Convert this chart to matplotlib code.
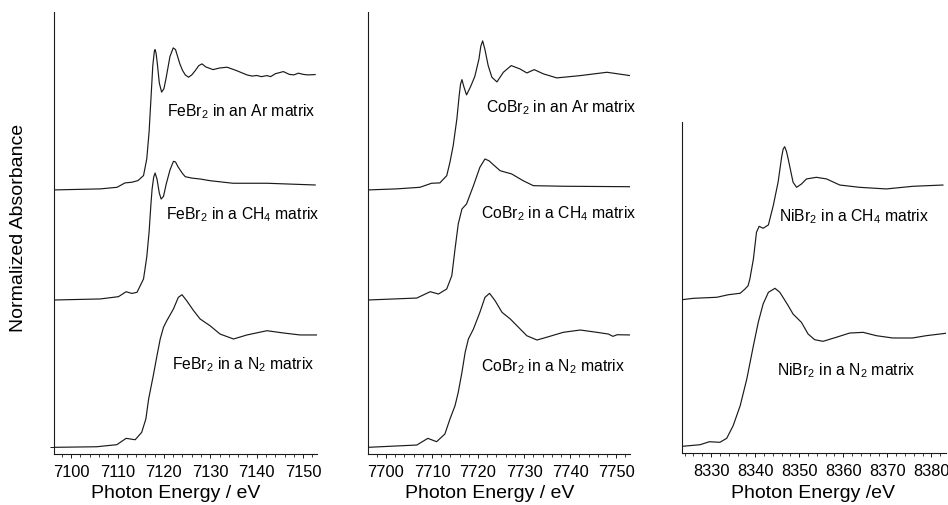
import matplotlib
matplotlib.use("Agg")
import matplotlib.pyplot as plt
from matplotlib.ticker import MultipleLocator

plt.rcParams['font.family'] = ['Liberation Sans', 'DejaVu Sans']
plt.rcParams['mathtext.fontset'] = 'custom'
plt.rcParams['mathtext.rm'] = 'Liberation Sans'
plt.rcParams['mathtext.it'] = 'Liberation Sans'

# ---------------- data (normalized absorbance) ----------------
fe_ar_e = [7096.3, 7106.3, 7109.9, 7111.6, 7113.1, 7114.4, 7115.6, 7116.3, 7116.8, 7117.2,
           7117.6, 7117.95, 7118.1, 7118.3, 7118.6, 7119.0, 7119.5, 7120.0, 7120.5, 7121.3,
           7122.0, 7122.5, 7122.8, 7123.4, 7124.0, 7124.6, 7125.3, 7126.0, 7126.8, 7127.5,
           7128.2, 7129.0, 7130.6, 7132.0, 7133.6, 7135.5, 7137.9, 7139.0, 7140.0, 7141.0,
           7142.2, 7143.0, 7144.0, 7145.75, 7147.0, 7148.0, 7149.0, 7150.0, 7151.0, 7152.6]
fe_ar_a = [0.0, 0.009, 0.023, 0.061, 0.067, 0.081, 0.125, 0.27, 0.504, 0.791,
           1.081, 1.211, 1.22, 1.19, 1.09, 0.93, 0.85, 0.88, 0.98, 1.16,
           1.235, 1.22, 1.18, 1.1, 1.04, 1.0, 0.98, 1.0, 1.04, 1.08,
           1.096, 1.07, 1.046, 1.06, 1.067, 1.04, 1.0, 0.99, 0.995, 0.985,
           0.994, 0.985, 1.01, 1.029, 1.005, 1.0, 1.015, 1.005, 1.0, 1.003]

fe_ch4_e = [7096.3, 7106.25, 7110.2, 7111.85, 7113.1, 7114.2, 7115.6, 7116.3, 7116.8, 7117.2,
            7117.45, 7117.8, 7118.1, 7118.5, 7119.0, 7119.4, 7119.9, 7120.5, 7121.3, 7122.05,
            7122.5, 7123.05, 7124.0, 7124.6, 7126.0, 7127.8, 7130.0, 7134.9, 7142.2, 7152.6]
fe_ch4_a = [0.0, 0.009, 0.029, 0.072, 0.057, 0.067, 0.183, 0.374, 0.591, 0.835,
            0.965, 1.07, 1.104, 1.052, 0.93, 0.878, 0.9, 1.009, 1.13, 1.206,
            1.2, 1.157, 1.1, 1.072, 1.06, 1.052, 1.037, 1.015, 1.015, 1.0]

fe_n2_e = [7096.3, 7105.5, 7109.85, 7111.85, 7113.8, 7115.2, 7116.1, 7116.7, 7117.7, 7118.5,
           7119.2, 7119.9, 7120.6, 7122.05, 7123.1, 7123.9, 7124.9, 7126.4, 7127.8, 7129.95,
           7132.1, 7135.0, 7137.9, 7142.2, 7145.8, 7149.35, 7152.95]
fe_n2_a = [0.0, 0.005, 0.023, 0.078, 0.066, 0.13, 0.246, 0.42, 0.623, 0.797,
           0.942, 1.043, 1.1, 1.203, 1.304, 1.327, 1.275, 1.188, 1.116, 1.057,
           0.985, 0.942, 0.977, 1.014, 0.994, 0.977, 0.977]

co_ar_e = [7696.1, 7702.3, 7707.4, 7709.9, 7711.7, 7713.2, 7713.9, 7714.6, 7715.4, 7715.9,
           7716.2, 7716.5, 7716.9, 7717.5, 7718.4, 7719.3, 7720.2, 7720.6, 7721.0, 7721.5,
           7722.2, 7723.0, 7724.1, 7725.5, 7727.2, 7729.1, 7730.6, 7732.2, 7734.2, 7737.1,
           7742.2, 7748.0, 7753.0]
co_ar_a = [0.0, 0.009, 0.023, 0.058, 0.061, 0.124, 0.241, 0.385, 0.617, 0.82,
           0.92, 0.959, 0.9, 0.826, 0.9, 0.987, 1.139, 1.25, 1.296, 1.22,
           1.081, 0.98, 0.939, 1.023, 1.081, 1.052, 1.017, 1.046, 1.009, 0.974,
           0.994, 1.023, 0.994]

co_ch4_e = [7696.1, 7706.7, 7709.6, 7711.4, 7713.2, 7714.3, 7715.0, 7715.7, 7716.5, 7717.5,
            7719.0, 7720.4, 7721.5, 7722.4, 7723.3, 7724.8, 7727.3, 7729.8, 7732.0, 7738.5, 7753.0]
co_ch4_a = [0.0, 0.017, 0.072, 0.052, 0.096, 0.211, 0.443, 0.661, 0.791, 0.835,
            0.994, 1.154, 1.226, 1.21, 1.177, 1.124, 1.096, 1.037, 0.994, 0.989, 0.985]

co_n2_e = [7696.1, 7706.7, 7709.1, 7711.0, 7712.8, 7713.9, 7715.0, 7715.7, 7716.5, 7717.2,
           7717.9, 7719.0, 7720.4, 7721.5, 7722.5, 7723.7, 7725.2, 7727.0, 7728.8, 7730.6,
           7732.8, 7734.9, 7738.5, 7742.2, 7745.8, 7748.3, 7749.3, 7750.2, 7753.0]
co_n2_a = [0.0, 0.02, 0.078, 0.049, 0.116, 0.246, 0.362, 0.478, 0.652, 0.826,
           0.942, 1.029, 1.174, 1.304, 1.339, 1.275, 1.174, 1.116, 1.043, 0.97,
           0.933, 0.957, 1.0, 1.02, 1.0, 0.985, 0.965, 0.979, 0.977]

ni_ch4_e = [8323.4, 8326.0, 8331.3, 8333.9, 8336.6, 8337.7, 8338.4, 8338.8, 8339.6, 8340.3,
            8340.9, 8341.8, 8343.0, 8344.1, 8345.2, 8346.0, 8346.35, 8346.7, 8347.1, 8347.5,
            8348.6, 8349.4, 8350.5, 8351.65, 8353.9, 8356.2, 8359.2, 8363.7, 8369.75, 8375.8, 8382.6]
ni_ch4_a = [0.0, 0.012, 0.021, 0.043, 0.056, 0.093, 0.122, 0.18, 0.354, 0.586,
            0.638, 0.621, 0.65, 0.817, 1.021, 1.238, 1.31, 1.33, 1.29, 1.223,
            1.021, 0.977, 1.006, 1.05, 1.064, 1.05, 0.997, 0.977, 0.963, 0.986, 0.997]

ni_n2_e = [8323.4, 8327.5, 8329.6, 8332.0, 8333.55, 8335.0, 8336.6, 8338.1, 8339.6, 8340.7,
           8341.8, 8343.0, 8344.5, 8345.6, 8347.5, 8348.6, 8350.5, 8352.0, 8353.5, 8355.4,
           8358.4, 8361.45, 8364.5, 8367.5, 8371.2, 8375.7, 8378.8, 8383.3]
ni_n2_a = [0.0, 0.014, 0.04, 0.035, 0.07, 0.179, 0.353, 0.585, 0.875, 1.078,
           1.237, 1.339, 1.374, 1.339, 1.223, 1.15, 1.078, 0.977, 0.927, 0.913,
           0.948, 0.985, 0.991, 0.962, 0.942, 0.942, 0.962, 0.983]

fe_labels = [r'FeBr$_2$ in a N$_2$ matrix', r'FeBr$_2$ in a CH$_4$ matrix', r'FeBr$_2$ in an Ar matrix']
co_labels = [r'CoBr$_2$ in a N$_2$ matrix', r'CoBr$_2$ in a CH$_4$ matrix', r'CoBr$_2$ in an Ar matrix']
ni_labels = [r'NiBr$_2$ in a N$_2$ matrix', r'NiBr$_2$ in a CH$_4$ matrix']

offsets3 = [0.058, 1.339, 2.296]
offsets2 = [0.058, 1.333]

x_labels = ['Photon Energy / eV', 'Photon Energy / eV', 'Photon Energy /eV']
y_label = 'Normalized Absorbance'

# ---------------- figure ----------------
fig = plt.figure(figsize=(9.48, 5.06), dpi=100)
W, H = 948, 506

def make_ax(x0, x1, ytop, ybot):
    return fig.add_axes([x0 / W, (H - ybot) / H, (x1 - x0) / W, (ybot - ytop) / H])

ax1 = make_ax(54, 317, 13, 455)
ax2 = make_ax(368, 630, 13, 455)
ax3 = make_ax(682, 946, 123, 454)

color = '#1a1a1a'
lw = 0.85

panels = [
    (ax1, [(fe_n2_e, fe_n2_a), (fe_ch4_e, fe_ch4_a), (fe_ar_e, fe_ar_a)], offsets3,
     (7096.3, 7153.0), (0, 3.843), fe_labels,
     [(7121.8, 0.743), (7120.5, 2.048), (7120.7, 2.944)], 176 / 948),
    (ax2, [(co_n2_e, co_n2_a), (co_ch4_e, co_ch4_a), (co_ar_e, co_ar_a)], offsets3,
     (7696.1, 7753.0), (0, 3.843), co_labels,
     [(7720.65, 0.726), (7720.65, 2.057), (7721.7, 2.978)], 490 / 948),
    (ax3, [(ni_n2_e, ni_n2_a), (ni_ch4_e, ni_ch4_a)], offsets2,
     (8323.4, 8383.3), (0, 2.878), ni_labels,
     [(8344.9, 0.683), (8345.4, 2.022)], 813 / 948),
]

for i, (ax, curves, offs, xl, yl, labels, tpos, xlab_x) in enumerate(panels):
    for (e, a), off in zip(curves, offs):
        ax.plot(e, [v + off for v in a], color=color, lw=lw, solid_joinstyle='round')
    for lab, (tx, ty) in zip(labels, tpos):
        ax.text(tx, ty, lab, fontsize=11.3, ha='left', va='baseline', color='black')
    ax.set_xlim(*xl)
    ax.set_ylim(*yl)
    ax.spines['top'].set_visible(False)
    ax.spines['right'].set_visible(False)
    for s in ('left', 'bottom'):
        ax.spines[s].set_linewidth(0.8)
        ax.spines[s].set_color(color)
    ax.xaxis.set_major_locator(MultipleLocator(10))
    ax.xaxis.set_minor_locator(MultipleLocator(2))
    ax.tick_params(axis='x', which='major', direction='out', length=3, width=0.7,
                   labelsize=11.8, pad=4, color=color)
    ax.tick_params(axis='x', which='minor', direction='out', length=2, width=0.6, color=color)
    if i == 0:
        ax.set_yticks([offs[0]])
        ax.set_yticklabels([])
        ax.tick_params(axis='y', direction='out', length=3, width=0.7, color=color)
    else:
        ax.set_yticks([])
    fig.text(xlab_x, (H - 494) / H, x_labels[i], fontsize=14, ha='center', va='center')

fig.text(19 / W, (H - 228) / H, y_label, rotation=90, fontsize=14, ha='center', va='center')

fig.savefig('out.png', dpi=100)
